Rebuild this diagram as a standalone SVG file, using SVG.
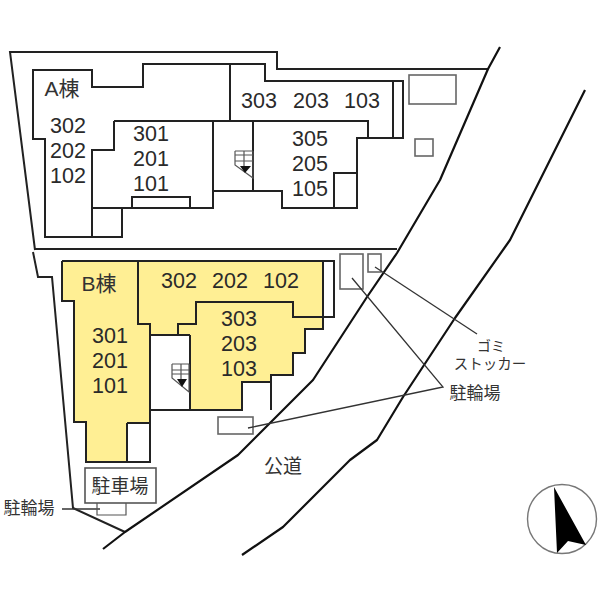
<svg xmlns="http://www.w3.org/2000/svg" width="600" height="600" viewBox="0 0 600 600">
<style>
.w{fill:none;stroke:#222;stroke-width:2;stroke-linejoin:miter}
.r{fill:none;stroke:#111;stroke-width:2.2;stroke-linejoin:round}
.g{fill:#fff;stroke:#666;stroke-width:1.6}
.l{fill:none;stroke:#333;stroke-width:1.3}
.s{fill:none;stroke:#555;stroke-width:1.2}
.n{font-family:"Liberation Sans",sans-serif;font-size:21.5px;fill:#2a2a2a;text-anchor:middle}
.j{font-family:"Liberation Sans","Noto Sans CJK JP",sans-serif;fill:#333;text-anchor:middle}
</style>
<rect width="600" height="600" fill="#fff"/>
<g id="site">
<path class="w" d="M35 250L10 52H277V69H488"/>
<path class="w" d="M35 249H397"/>
<path class="w" d="M33 252L38 277H52L73 508L125 532"/>
</g>
<g id="roads">
<path class="r" d="M500 47L488 69L440 180L397 253L367 297L313 380L238 455L125 532L103 549"/>
<path class="r" d="M585 90L510 240L455 318L403 397L377 440L350 460L320 490L283 527L242 555"/>
</g>
<g id="building-a">
<path class="w" d="M33 70H92V87H143V64H265V81H403V138H357V208H282V191H213V208H122V237H45V139H33Z"/>
<path class="w" d="M230 64V121M114 121H368V138M114 121V150H92V237M92 208H122M132 208V197H190V208M213 121V191M253 121V191M393 81V138M334 208V173H357"/>
</g>
<g id="a-outbuildings">
<rect class="g" x="409" y="75" width="47" height="29"/>
<rect class="g" x="415" y="139" width="18" height="17"/>
</g>
<g id="building-b">
<rect x="323" y="261" width="11" height="56" fill="#fff"/>
<path fill="#ffef94" d="M62 261H323V329H305V353H293V375H271V382H242V410H190V335H150V422H127V462H86V423H74V301H62Z"/>
<path class="w" d="M62 261H334V317H293V302H196V324H178V335H150M178 335H190M62 261V301H74V422H86V462H150V324H138V261M127 423H150M127 423V462M323 261V329H305V353H293V375H271V382H242V410H150M271 382V410M190 335V410"/>
</g>
<g id="stairs-a">
<path class="s" d="M235 151H253M235 155H253M235 161H253M235 151V165L253 178V151M244 151V166"/>
<path d="M240 166H251L245 173Z" fill="#111"/>
</g>
<g id="stairs-b">
<path class="s" d="M172 364H189M172 370H189M172 374H189M172 364V378L189 392V364M181 364V379"/>
<path d="M177 379H187L182 387Z" fill="#111"/>
</g>
<g id="b-outbuildings">
<rect class="g" x="340" y="254" width="23" height="35"/>
<rect class="g" x="368" y="254" width="13" height="18"/>
<rect class="g" x="218" y="417" width="35" height="17"/>
</g>
<g id="leaders">
<path class="l" d="M375 267L477 334"/>
<path class="l" d="M352 278L443 387L248 428"/>
<path class="l" d="M62 509H100"/>
</g>
<g id="parking">
<path class="s" d="M97 503V515H126V503"/>
<rect x="85" y="468" width="71" height="35" fill="#fff" stroke="#555" stroke-width="1.6"/>
<text class="j" x="120" y="493" font-size="19">駐車場</text>
</g>
<g id="labels-a">
<text class="j" x="62" y="96" font-size="21">A棟</text>
<text class="n" x="68" y="133">302</text>
<text class="n" x="68" y="158">202</text>
<text class="n" x="68" y="183">102</text>
<text class="n" x="151" y="141">301</text>
<text class="n" x="151" y="166">201</text>
<text class="n" x="151" y="191">101</text>
<text class="n" x="259" y="108">303</text>
<text class="n" x="311" y="108">203</text>
<text class="n" x="362" y="108">103</text>
<text class="n" x="310" y="146">305</text>
<text class="n" x="310" y="171">205</text>
<text class="n" x="310" y="196">105</text>
</g>
<g id="labels-b">
<text class="j" x="99" y="291" font-size="21">B棟</text>
<text class="n" x="110" y="343">301</text>
<text class="n" x="110" y="368">201</text>
<text class="n" x="110" y="393">101</text>
<text class="n" x="179" y="288">302</text>
<text class="n" x="230" y="288">202</text>
<text class="n" x="281" y="288">102</text>
<text class="n" x="239" y="326">303</text>
<text class="n" x="239" y="351">203</text>
<text class="n" x="239" y="376">103</text>
</g>
<g id="labels-other">
<text class="j" x="491" y="351" font-size="14">ゴミ</text>
<text class="j" x="490" y="369" font-size="14.5">ストッカー</text>
<text class="j" x="475" y="399" font-size="17">駐輪場</text>
<text class="j" x="283" y="473" font-size="19">公道</text>
<text class="j" x="29" y="514" font-size="17">駐輪場</text>
</g>
<g id="compass">
<circle cx="562" cy="519" r="34.5" fill="#fff" stroke="#777" stroke-width="1.4"/>
<path d="M554 487L586 545L568 541L557 553Z" fill="#000"/>
</g>
</svg>
